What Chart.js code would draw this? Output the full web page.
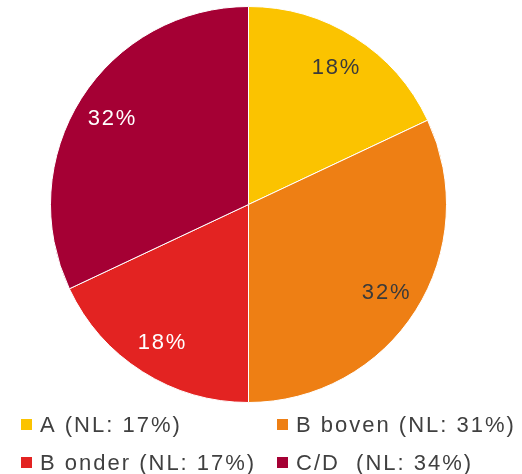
<!DOCTYPE html>
<html>
<head>
<meta charset="utf-8">
<script src="https://cdn.jsdelivr.net/npm/chart.js@4"></script>
<style>
  html, body { margin: 0; padding: 0; background: #fff; }
  #wrap { width: 522px; height: 474px; }
</style>
</head>
<body>
<div id="wrap"><canvas id="pieChart" width="522" height="474"></canvas></div>
<script>
// Categories and values
const categories = ['A', 'B boven', 'B onder', 'C/D'];
const shares = [18, 32, 18, 32];
const legendLabels = ['A (NL: 17%)', 'B boven (NL: 31%)', 'B onder (NL: 17%)', 'C/D  (NL: 34%)'];
const sliceColors = ['#FBC300', '#EE7F14', '#E32322', '#A50034'];
const labelColors = ['#3A3A3A', '#3A3A3A', '#FFFFFF', '#FFFFFF'];

// Percent labels inside each slice
const sliceLabels = {
    id: 'sliceLabels',
    afterDatasetsDraw(chart) {
        const ctx = chart.ctx;
        const meta = chart.getDatasetMeta(0);
        ctx.save();
        ctx.font = '22px "Liberation Sans"';
        ctx.letterSpacing = '1.8px';
        ctx.textAlign = 'center';
        ctx.textBaseline = 'middle';
        meta.data.forEach((arc, i) => {
            const mid = (arc.startAngle + arc.endAngle) / 2;
            const r = arc.outerRadius * 0.82;
            ctx.fillStyle = labelColors[i];
            ctx.fillText(shares[i] + '%', arc.x + Math.cos(mid) * r + 1, arc.y + Math.sin(mid) * r + 1);
        });
        ctx.restore();
    }
};

// Two-column legend below the pie
const gridLegend = {
    id: 'gridLegend',
    afterDraw(chart) {
        const ctx = chart.ctx;
        const cols = [21, 277];
        const rows = [425, 463];
        ctx.save();
        ctx.font = '22px "Liberation Sans"';
        ctx.letterSpacing = '2px';
        ctx.textBaseline = 'middle';
        legendLabels.forEach((text, i) => {
            const x = cols[i % 2];
            const y = rows[Math.floor(i / 2)];
            ctx.fillStyle = sliceColors[i];
            ctx.fillRect(x, y - 6, 11, 11);
            ctx.fillStyle = '#404040';
            ctx.fillText(text, x + 19, y + 1);
        });
        ctx.restore();
    }
};

new Chart(document.getElementById('pieChart').getContext('2d'), {
    type: 'pie',
    data: {
        labels: categories,
        datasets: [{
            data: shares,
            backgroundColor: sliceColors,
            borderColor: '#FFFFFF',
            borderWidth: 1,
        }],
    },
    options: {
        responsive: false,
        animation: false,
        layout: { padding: { top: 6, left: 0, right: 25, bottom: 71 } },
        plugins: {
            legend: { display: false },
            tooltip: { enabled: false },
        },
    },
    plugins: [sliceLabels, gridLegend],
});
</script>
</body>
</html>
